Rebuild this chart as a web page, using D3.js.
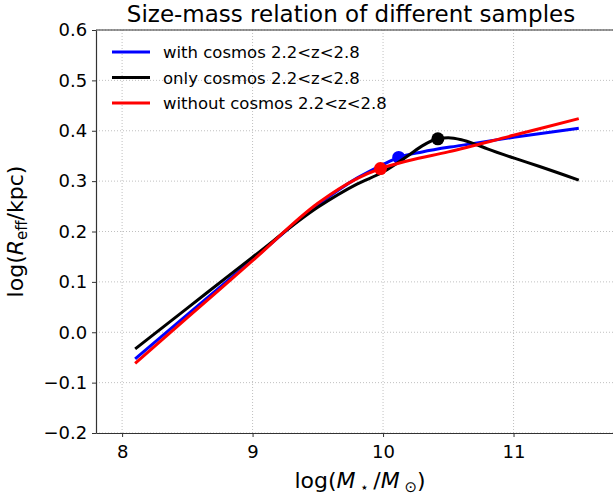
<!DOCTYPE html>
<html lang="en">
<head>
    <meta charset="UTF-8">
    <title>Size-mass relation</title>
    <script src="https://d3js.org/d3.v7.min.js"></script>
    <style>
        html, body {
            margin: 0;
            background: white;
            font-family: "DejaVu Sans", sans-serif;
        }
        .grid line {
            stroke: #b0b0b0;
            stroke-width: 0.8;
            stroke-dasharray: 1,2;
        }
    </style>
</head>
<body>
<div id="vis"></div>
<script>

    // values
    var xTicks = [8, 9, 10, 11];
    var yTicks = [-0.2, -0.1, 0.0, 0.1, 0.2, 0.3, 0.4, 0.5, 0.6];

    var blueX = [8.1, 8.5, 9.0, 9.5, 9.8, 10.0, 10.12, 10.3, 10.6, 11.0, 11.5];
    var blueY = [-0.053, 0.035, 0.144, 0.253, 0.306, 0.333, 0.347, 0.358, 0.371, 0.387, 0.405];

    var blackX = [8.1, 8.5, 9.0, 9.5, 9.8, 10.0, 10.2, 10.3, 10.42, 10.5, 10.6, 10.7, 10.8, 11.0, 11.2, 11.5];
    var blackY = [-0.033, 0.048, 0.149, 0.248, 0.294, 0.318, 0.352, 0.370, 0.384, 0.386, 0.382, 0.374, 0.364, 0.346, 0.329, 0.302];

    var redX = [8.1, 8.5, 9.0, 9.5, 9.8, 9.98, 10.2, 10.5, 11.0, 11.5];
    var redY = [-0.062, 0.029, 0.142, 0.256, 0.305, 0.325, 0.341, 0.358, 0.391, 0.424];

    var series = [
        {name: 'with cosmos 2.2<z<2.8', colour: '#0000ff', xs: blueX, ys: blueY, peak: 6},
        {name: 'only cosmos 2.2<z<2.8', colour: '#000000', xs: blackX, ys: blackY, peak: 8},
        {name: 'without cosmos 2.2<z<2.8', colour: '#ff0000', xs: redX, ys: redY, peak: 5}
    ];

    var width = 613, height = 496;
    var margin = {top: 30, bottom: 63, left: 96, right: -1};

    var svg = d3.select('#vis')
        .append('svg')
            .attr('width', width)
            .attr('height', height)
        .append('g')
            .attr('transform', 'translate(' + margin.left + ',' + margin.top + ')');

    var w = width - margin.left - margin.right;
    var h = height - margin.top - margin.bottom;

    var x = d3.scaleLinear().domain([7.8, 11.77]).range([0, w]);
    var y = d3.scaleLinear().domain([-0.2, 0.6]).range([h, 0]);

    // grid
    svg.append('g').attr('class', 'grid')
        .selectAll('line').data(xTicks).enter().append('line')
            .attr('x1', function(d){ return x(d); })
            .attr('x2', function(d){ return x(d); })
            .attr('y1', 0).attr('y2', h);
    svg.append('g').attr('class', 'grid')
        .selectAll('line').data(yTicks).enter().append('line')
            .attr('y1', function(d){ return y(d); })
            .attr('y2', function(d){ return y(d); })
            .attr('x1', 0).attr('x2', w);

    var line = d3.line()
        .x(function(d){ return x(d[0]); })
        .y(function(d){ return y(d[1]); })
        .curve(d3.curveMonotoneX);

    series.forEach(function(s){
        var pts = s.xs.map(function(v, i){ return [v, s.ys[i]]; });
        svg.append('path')
            .attr('d', line(pts))
            .attr('fill', 'none')
            .attr('stroke', s.colour)
            .attr('stroke-width', 3);
        svg.append('circle')
            .attr('cx', x(s.xs[s.peak]))
            .attr('cy', y(s.ys[s.peak]))
            .attr('r', 6.5)
            .attr('fill', s.colour);
    });

    // axes
    var xAxis = d3.axisBottom(x).tickValues(xTicks).tickSize(4).tickSizeOuter(0)
        .tickFormat(d3.format('d'));
    var yAxis = d3.axisLeft(y).tickValues(yTicks).tickSize(4).tickSizeOuter(0)
        .tickFormat(function(d){ return d3.format('.1f')(d).replace('-', '\u2212'); });

    var gx = svg.append('g').attr('transform', 'translate(0,' + h + ')').call(xAxis);
    var gy = svg.append('g').call(yAxis);
    [gx, gy].forEach(function(g){
        g.selectAll('text').attr('font-family', 'DejaVu Sans').attr('font-size', '18px').attr('fill', '#000');
        g.selectAll('line').attr('stroke', '#333').attr('stroke-width', 1);
        g.select('.domain').attr('stroke', '#333').attr('stroke-width', 1.2);
    });
    gx.selectAll('text').attr('dy', '1.0em');
    gy.selectAll('text').attr('dx', '-0.1em');

    svg.append('line')
        .attr('x1', 0).attr('x2', w).attr('y1', 0).attr('y2', 0)
        .attr('stroke', '#333').attr('stroke-width', 1.2);

    // title
    svg.append('text')
        .attr('x', w / 2 - 4).attr('y', -8)
        .attr('text-anchor', 'middle')
        .attr('font-size', '23px')
        .text('Size-mass relation of different samples');

    // x label
    var xl = svg.append('text')
        .attr('x', w / 2 + 5).attr('y', h + 55)
        .attr('text-anchor', 'middle')
        .attr('font-size', '22px');
    xl.append('tspan').text('log(');
    xl.append('tspan').attr('font-style', 'italic').text('M');
    xl.append('tspan').attr('font-size', '14px').attr('dy', 4).text(' \u22c6 ');
    xl.append('tspan').attr('dy', -4).text('/');
    xl.append('tspan').attr('font-style', 'italic').text('M');
    xl.append('tspan').attr('font-size', '15px').attr('dy', 4).text(' \u2299');
    xl.append('tspan').attr('dy', -4).text(')');

    // y label
    var yl = svg.append('text')
        .attr('transform', 'translate(' + (-73) + ',' + (h / 2) + ')rotate(-90)')
        .attr('text-anchor', 'middle')
        .attr('font-size', '22px');
    yl.append('tspan').text('log(');
    yl.append('tspan').attr('font-style', 'italic').text('R');
    yl.append('tspan').attr('font-size', '15px').attr('dy', 4).text('eff');
    yl.append('tspan').attr('dy', -4).text('/kpc)');

    // legend
    var legend = svg.append('g').attr('transform', 'translate(16,22)');
    series.forEach(function(s, i){
        var g = legend.append('g').attr('transform', 'translate(0,' + (i * 25.5) + ')');
        g.append('line')
            .attr('x1', 0).attr('x2', 38)
            .attr('stroke', s.colour).attr('stroke-width', 3);
        g.append('text')
            .attr('x', 51).attr('y', 6)
            .attr('font-size', '16.5px')
            .text(s.name);
    });

</script>
</body>
</html>
